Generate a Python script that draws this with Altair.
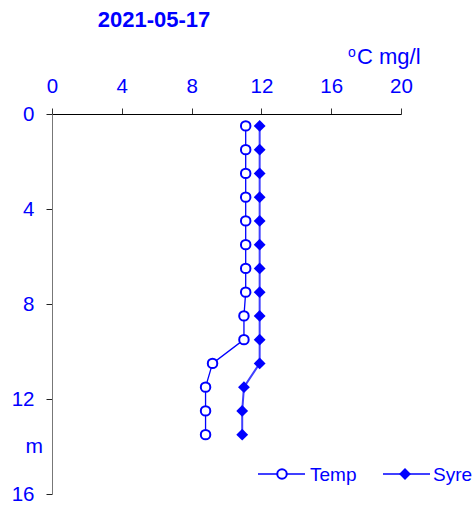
import altair as alt
import pandas as pd

depth = [0.5, 1.5, 2.5, 3.5, 4.5, 5.5, 6.5, 7.5, 8.5, 9.5, 10.5, 11.5, 12.5, 13.5]
temp = [11.1, 11.1, 11.1, 11.1, 11.1, 11.1, 11.1, 11.1, 11.0, 11.0, 9.2, 8.8, 8.8, 8.8]
syre = [11.9, 11.9, 11.9, 11.9, 11.9, 11.9, 11.9, 11.9, 11.9, 11.9, 11.9, 11.0, 10.9, 10.9]
x_ticks = [0, 4, 8, 12, 16, 20]
y_ticks = [0, 4, 8, 12, 16]
title_text = "2021-05-17"
unit_text = "C mg/l"

BLUE = "#0000FF"
FONT = "Liberation Sans"

df = pd.DataFrame({"depth": depth, "temp": temp, "syre": syre})

xs = alt.Scale(domain=[0, 20], nice=False, zero=False)
ys = alt.Scale(domain=[0, 16], nice=False, zero=False, reverse=True)

xaxis = alt.Axis(orient="top", values=x_ticks, title=None, grid=False, tickSize=6,
                 labelPadding=12, labelFontSize=20.5, labelColor=BLUE, labelFont=FONT,
                 domainColor="black", tickColor="#333333", labelFlush=False)
yaxis = alt.Axis(orient="left", values=y_ticks, title=None, grid=False, tickSize=6,
                 labelPadding=12, labelFontSize=20.5, labelColor=BLUE, labelFont=FONT,
                 domainColor="#777777", tickColor="#222222", labelFlush=False,
                 labelBaseline="middle")

base = alt.Chart(df)

temp_line = base.mark_line(color=BLUE, strokeWidth=1.3).encode(
    x=alt.X("temp:Q", scale=xs, axis=xaxis),
    y=alt.Y("depth:Q", scale=ys, axis=yaxis),
    order="depth:Q",
)
syre_line = base.mark_line(color=BLUE, strokeWidth=2, opacity=0.75).encode(
    x=alt.X("syre:Q", scale=xs),
    y=alt.Y("depth:Q", scale=ys),
    order="depth:Q",
)
temp_pts = base.mark_point(shape="circle", filled=True, fill="white", stroke=BLUE,
                           strokeWidth=2, size=90, opacity=1).encode(
    x=alt.X("temp:Q", scale=xs),
    y=alt.Y("depth:Q", scale=ys),
)
syre_pts = base.mark_point(shape="diamond", filled=True, color=BLUE, size=140,
                           opacity=1).encode(
    x=alt.X("syre:Q", scale=xs),
    y=alt.Y("depth:Q", scale=ys),
)

# decorations / text
title = alt.Chart(pd.DataFrame({"t": [title_text]})).mark_text(
    font=FONT, fontSize=22, fontWeight="bold", color=BLUE, align="center",
    baseline="alphabetic").encode(text="t:N", x=alt.value(102), y=alt.value(-87))

unit_o = alt.Chart(pd.DataFrame({"t": ["o"]})).mark_text(
    font=FONT, fontSize=14, color=BLUE, align="left", baseline="alphabetic"
).encode(text="t:N", x=alt.value(296), y=alt.value(-57))
unit = alt.Chart(pd.DataFrame({"t": [unit_text]})).mark_text(
    font=FONT, fontSize=22, color=BLUE, align="left", baseline="alphabetic"
).encode(text="t:N", x=alt.value(305), y=alt.value(-50))

m_label = alt.Chart(pd.DataFrame({"t": ["m"], "d": [14]})).mark_text(
    font=FONT, fontSize=21, color=BLUE, align="right", baseline="middle"
).encode(text="t:N", x=alt.value(-9), y=alt.Y("d:Q", scale=ys))

# legend
leg_y = 360
lt1 = alt.Chart(pd.DataFrame({"a": [0]})).mark_rule(color=BLUE, strokeWidth=1.3).encode(
    x=alt.value(206), x2=alt.value(253), y=alt.value(leg_y))
lt2 = alt.Chart(pd.DataFrame({"a": [0]})).mark_rule(color=BLUE, strokeWidth=1.3).encode(
    x=alt.value(331), x2=alt.value(378), y=alt.value(leg_y))
lp1 = alt.Chart(pd.DataFrame({"a": [0]})).mark_point(
    shape="circle", filled=True, fill="white", stroke=BLUE, strokeWidth=2, size=90,
    opacity=1).encode(x=alt.value(230), y=alt.value(leg_y))
lp2 = alt.Chart(pd.DataFrame({"a": [0]})).mark_point(
    shape="diamond", filled=True, color=BLUE, size=140, opacity=1
).encode(x=alt.value(353), y=alt.value(leg_y))
ltx = alt.Chart(pd.DataFrame({"t": ["Temp", "Syre"], "px": [258, 381]})).mark_text(
    font=FONT, fontSize=19, color=BLUE, align="left", baseline="middle"
).encode(text="t:N", x=alt.X("px:Q", scale=None), y=alt.value(leg_y + 1))

chart = alt.layer(
    temp_line, syre_line, temp_pts, syre_pts,
    title, unit_o, unit, m_label,
    lt1, lt2, lp1, lp2, ltx,
).properties(
    width=349, height=380,
    background="white",
    autosize=alt.AutoSizeParams(type="none"),
    padding={"left": 52, "top": 114, "right": 74, "bottom": 13},
).configure_view(strokeWidth=0)

chart.save("out.html", embed_options={"renderer": "svg", "actions": False})
